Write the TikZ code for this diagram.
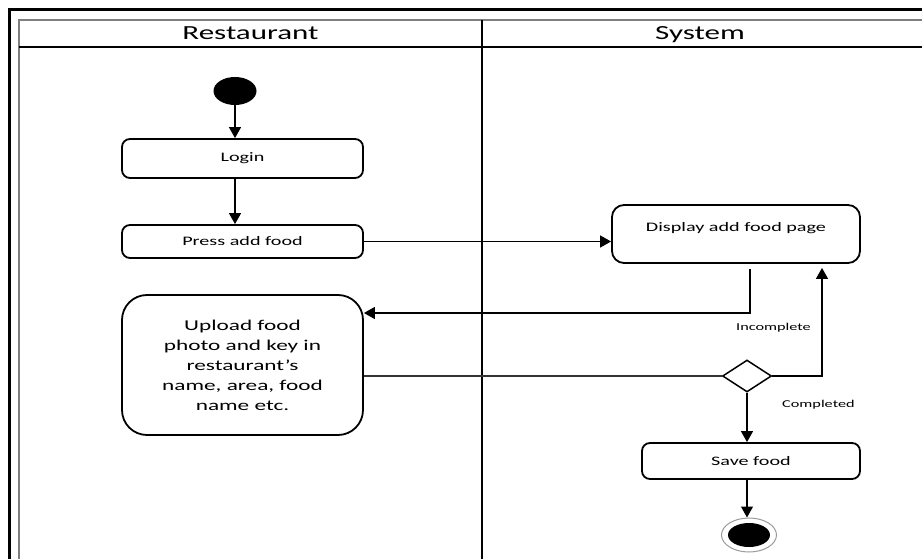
\documentclass[tikz,border=0pt]{standalone}
\usepackage{fontspec}
\setmainfont{Carlito}[FakeStretch=1.55]
\usetikzlibrary{arrows.meta,shapes.geometric}
\definecolor{lane}{HTML}{7F7F7F}
\definecolor{ring}{HTML}{9A9A9A}
\tikzset{
  act/.style={draw,line width=1.8pt,rounded corners=8pt,minimum width=241pt,inner sep=0pt,font=\fontsize{13}{15}\selectfont},
  lanehead/.style={font=\fontsize{20}{22}\selectfont,anchor=base},
  note/.style={font=\fontsize{10.5}{12}\selectfont,inner sep=0pt},
  initial/.style={ellipse,fill=black,minimum width=43pt,minimum height=28pt,inner sep=0pt},
  final/.style={ellipse,draw=ring,line width=1pt,minimum width=55pt,minimum height=34pt,inner sep=0pt},
  decision/.style={diamond,draw,line width=1.5pt,minimum width=49pt,minimum height=32pt,inner sep=0pt},
  flow/.style={->,line width=1.2pt}
}

\begin{document}
\begin{tikzpicture}[x=1pt,y=-1pt,>={Triangle[length=11pt,width=12pt]}]
\useasboundingbox (0,0) rectangle (922,559);
% swimlane frame
\draw[line width=3pt] (9,575) -- (9,10) -- (940,10);
\draw[lane,line width=2pt] (19,575) -- (19,20) -- (940,20);
\draw[line width=1.3pt] (19,47) -- (940,47);
\draw[line width=1.2pt] (482,20) -- (482,575);
\node[lanehead] (rest) at (250.5,40) {Restaurant};
\node[lanehead] (sys) at (700,40) {System};

% activities
\node[initial] (start) at (235,91) {};
\node[act,minimum height=39pt] (login) at (242.5,158.5) {Login};
\node[act,minimum height=33pt] (press) at (242.5,241.5) {Press add food};
\node[act,minimum height=140pt,rounded corners=25pt,align=center,font=\fontsize{15}{20}\selectfont] (upload) at (242.5,365)
  {Upload food\\photo and key in\\restaurant’s\\name, area, food\\name etc.};
\node[act,minimum width=248pt,minimum height=58pt,rounded corners=12pt,text depth=15pt] (show) at (736,234) {Display add food page};
\node[decision] (check) at (747,376) {};
\node[act,minimum width=218pt,minimum height=36pt] (save) at (751,461) {Save food};
\node[final] (stop) at (749,535) {};
\fill (stop.center) ellipse [x radius=21pt,y radius=12pt];

% flows
\draw[flow] (start) -- (start |- login.north);
\draw[flow] (login.south -| start) -- (press.north -| start);
\draw[flow] (press.east) -- (press.east -| show.west);
\draw[flow] ([xshift=14pt,yshift=-5pt]show.south) |- ([yshift=52pt]upload.east);
\draw[black!80,line width=1.2pt] (check.west -| upload.east) -- (check.west);
\draw[flow] (check.east) -| ([xshift=86pt,yshift=-4pt]show.south);
\draw[flow] (check.south) -- (check.south |- save.north);
\draw[flow] (save.south -| check) -- (stop.north -| check);
\node[note,anchor=east] (incomplete) at (811,328) {Incomplete};
\node[note,anchor=west] (completed) at (782,405) {Completed};
\end{tikzpicture}
\end{document}
